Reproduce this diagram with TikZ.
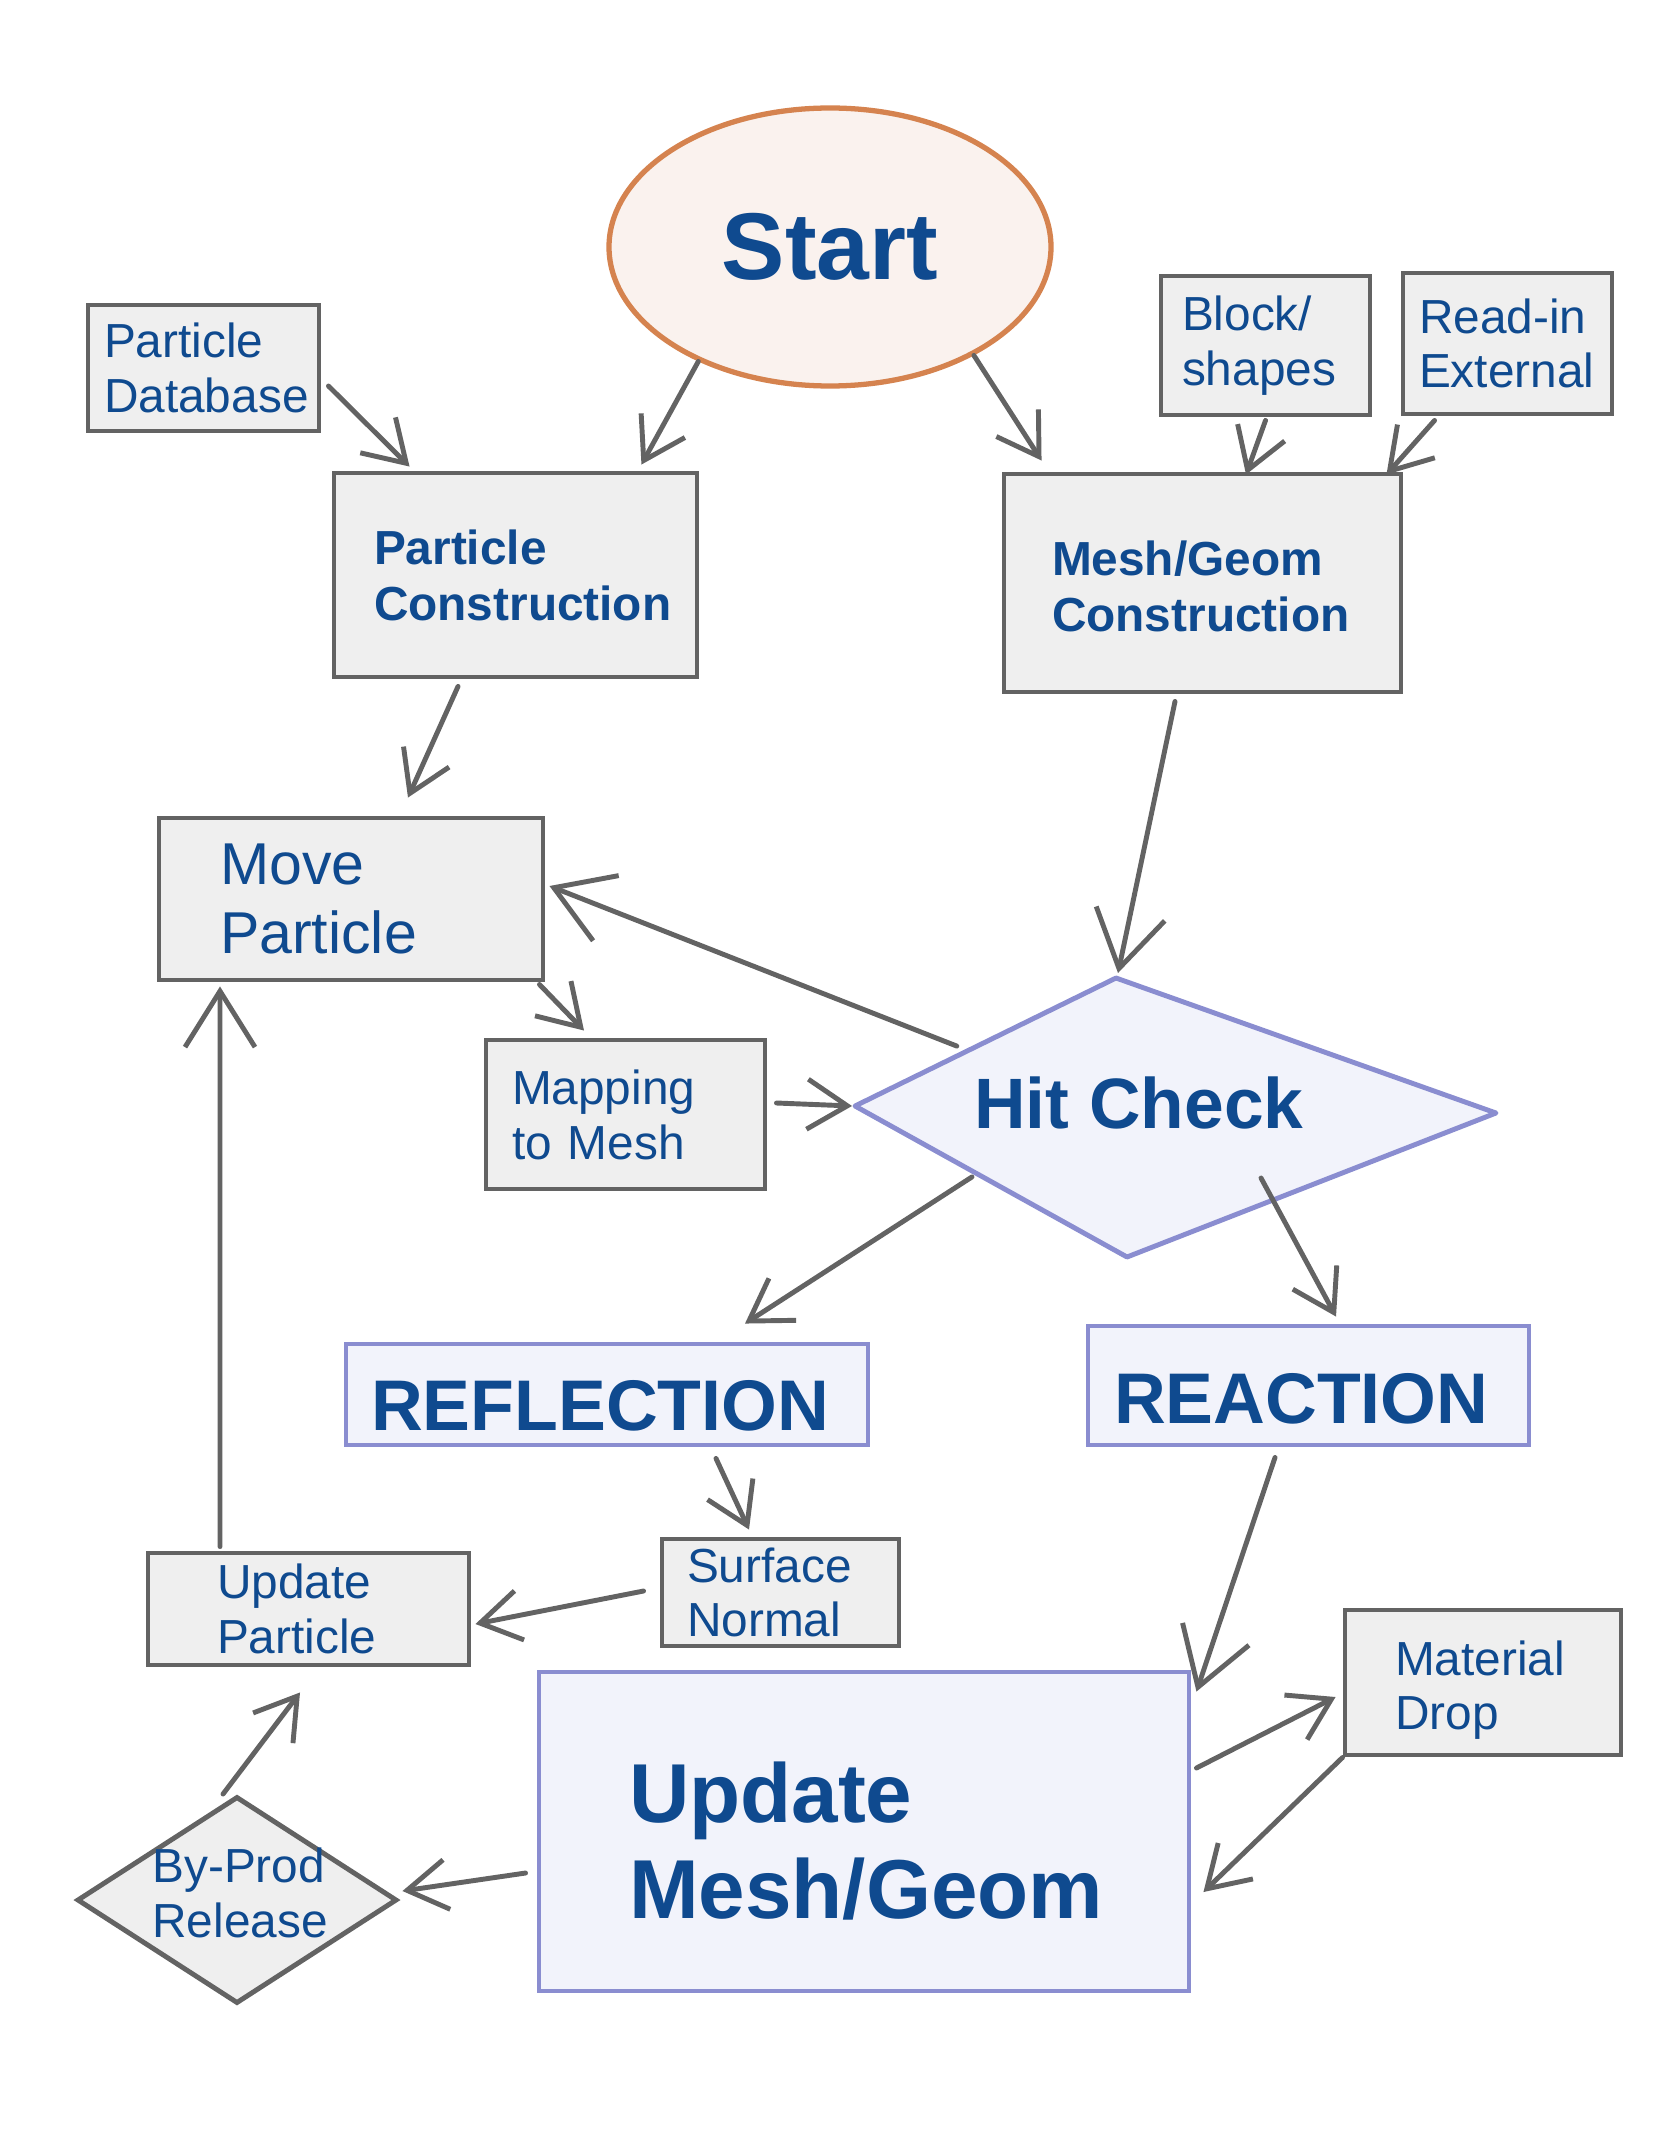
\documentclass[tikz,border=0pt]{standalone}
\usepackage{fontspec}
\setmainfont{Liberation Sans}
\usetikzlibrary{arrows.meta, positioning, shapes.geometric, calc}

\definecolor{txtblue}{HTML}{0F4A8F}
\definecolor{linegray}{HTML}{636363}
\definecolor{boxfill}{HTML}{EFEFEF}
\definecolor{bluefill}{HTML}{F2F3FB}
\definecolor{blueline}{HTML}{8A8DD0}
\definecolor{startfill}{HTML}{FAF2EE}
\definecolor{startline}{HTML}{D5834F}

\begin{document}
\begin{tikzpicture}[
  graybox/.style={draw=linegray, line width=1.4pt, fill=boxfill, text=txtblue, align=left, inner ysep=0pt},
  bluebox/.style={draw=blueline, line width=1.4pt, fill=bluefill, text=txtblue, align=left, inner ysep=0pt},
  smalltxt/.style={font=\fontsize{13.6}{15.6}\selectfont},
  smallbf/.style={font=\fontsize{13.6}{15.9}\selectfont\bfseries},
  bigbf/.style={font=\fontsize{20.4}{23.5}\selectfont\bfseries},
  hitshape/.style={draw=blueline, fill=bluefill, line width=1.4pt, line join=round},
  conn/.style={draw=linegray, line width=1.4pt, line cap=round, -{Straight Barb[length=4mm,width=5mm]}},
  bigconn/.style={conn, -{Straight Barb[length=5.6mm,width=7mm]}}
]

\useasboundingbox (0,0) rectangle (16.68,-21.54);

% start and inputs
\node[ellipse, draw=startline, fill=startfill, line width=1.5pt, minimum width=4.42cm, minimum height=2.78cm, inner sep=0pt, text=txtblue, font=\fontsize{27}{30}\selectfont\bfseries] (start) at (8.30,-2.47) {Start};

\node[graybox, smalltxt, minimum height=1.26cm, text width=1.99cm, inner xsep=0.16cm] (pdb) at (2.035,-3.68) {Particle\\Database};
\node[graybox, smalltxt, minimum height=1.39cm, text width=1.67cm, inner xsep=0.21cm] (blk) at (12.655,-3.455) {Block/\\shapes};
\node[graybox, smalltxt, minimum height=1.41cm, text width=1.77cm, inner xsep=0.16cm] (rdin) at (15.075,-3.435) {Read-in\\External};

\node[graybox, smallbf, minimum height=2.04cm, text width=2.83cm, inner xsep=0.40cm] (pc) at (5.155,-5.75) {Particle\\Construction};
\node[graybox, smallbf, minimum height=2.18cm, text width=3.01cm, inner xsep=0.48cm, text height=0.42cm] (mgc) at (12.025,-5.83) {Mesh/Geom\\Construction};

% tracking loop
\node[graybox, font=\fontsize{16.8}{19.6}\selectfont, minimum height=1.62cm, text width=2.62cm, inner xsep=0.61cm] (mp) at (3.51,-8.99) {Move\\Particle};
\node[graybox, smalltxt, minimum height=1.49cm, text width=2.27cm, inner xsep=0.26cm] (map) at (6.255,-11.145) {Mapping\\to Mesh};

\coordinate (hitT) at (11.16,-9.78);
\coordinate (hitL) at (8.55,-11.06);
\coordinate (hitR) at (14.96,-11.13);
\coordinate (hitB) at (11.27,-12.57);
\draw[hitshape] (hitL) -- (hitT) -- (hitR) -- (hitB) -- cycle;
\node[text=txtblue, font=\fontsize{20.3}{23}\selectfont\bfseries] (hit) at (11.39,-11.03) {Hit Check};

\node[bluebox, bigbf, minimum height=1.01cm, text width=4.72cm, inner xsep=0.25cm, text height=0.72cm, text depth=0pt] (refl) at (6.07,-13.945) {REFLECTION};
\node[bluebox, bigbf, minimum height=1.19cm, text width=3.89cm, inner xsep=0.26cm, text height=0.76cm, text depth=0pt] (reac) at (13.085,-13.855) {REACTION};

\node[graybox, smalltxt, minimum height=1.07cm, text width=1.87cm, inner xsep=0.25cm] (sn) at (7.805,-15.925) {Surface\\Normal};
\node[graybox, smalltxt, minimum height=1.12cm, text width=1.83cm, inner xsep=0.69cm] (up) at (3.085,-16.09) {Update\\Particle};
\node[graybox, smalltxt, minimum height=1.45cm, text width=1.76cm, inner xsep=0.50cm, text height=0.50cm] (md) at (14.83,-16.825) {Material\\Drop};

\node[bluebox, font=\fontsize{23.8}{27.3}\selectfont\bfseries, minimum height=3.19cm, text width=4.70cm, inner xsep=0.90cm, text height=0.80cm] (um) at (8.64,-18.315) {Update\\Mesh/Geom};

\node[diamond, draw=linegray, fill=boxfill, line width=1.4pt, minimum width=3.2cm, minimum height=2.07cm, inner sep=0pt] (bp) at (2.37,-19.0) {};
\node[smalltxt, text=txtblue, align=left] (bptext) at (2.40,-18.93) {By-Prod\\Release};

% connectors
\draw[conn] (start.221) -- ([xshift=-5.8mm,yshift=0.6mm]pc.north east);
\draw[conn] (start.323) -- ([xshift=4mm,yshift=1.1mm]mgc.north west);
\draw[conn] ([xshift=0.7mm,yshift=-1.8mm]pdb.east) -- ([xshift=7.8mm,yshift=0.4mm]pc.north west);
\draw[conn] ([yshift=-0.3mm]blk.south) -- ([xshift=4.35mm,yshift=-0.3mm]mgc.north);
\draw[conn] ([xshift=3.4mm,yshift=-0.4mm]rdin.south west) -- ([xshift=-1.7mm,yshift=-0.3mm]mgc.north east);
\draw[conn] ([xshift=-5.75mm,yshift=-0.7mm]pc.south) -- ([xshift=5.7mm,yshift=1.8mm]mp.north);
\draw[bigconn] ([xshift=-2.75mm,yshift=-0.7mm]mgc.south) -- ([xshift=0.2mm,yshift=0.5mm]hitT);
\draw[bigconn] ($(hitL)!0.39!(hitT)+(0,0.1)$) -- ([xshift=0.4mm,yshift=1.3mm]mp.east);
\draw[conn] ([xshift=-0.6mm,yshift=-0.2mm]mp.south east) -- ([xshift=-4.15mm,yshift=0.7mm]map.north);
\draw[conn] ([xshift=0.9mm,yshift=1.15mm]map.east) -- ([xshift=-0.3mm]hitL);
\draw[conn] ($(hitL)!0.43!(hitB)+(0,-0.06)$) -- ([xshift=13.8mm,yshift=1.8mm]refl.north);
\draw[conn] ([shift={(1.34,0.79)}]hitB) -- ([xshift=2.75mm,yshift=0.7mm]reac.north);
\draw[conn] ([xshift=10.9mm,yshift=-1.1mm]refl.south) -- ([xshift=-3.15mm,yshift=0.7mm]sn.north);
\draw[conn] ([xshift=-1.6mm,yshift=0.15mm]sn.west) -- ([xshift=0.4mm,yshift=-1.5mm]up.east);
\draw[bigconn] ([xshift=-8.85mm,yshift=0.4mm]up.north) -- ([xshift=-13.1mm,yshift=-0.4mm]mp.south);
\draw[bigconn] ([xshift=-3.35mm,yshift=-1mm]reac.south) -- ([xshift=0.5mm,yshift=-2.2mm]um.north east);
\draw[conn] ([xshift=0.5mm,yshift=6.35mm]um.east) -- ([xshift=-0.7mm,yshift=-1.45mm]md.west);
\draw[conn] (md.south west) -- ([xshift=1.2mm,yshift=-6.05mm]um.east);
\draw[conn] ([xshift=-1.1mm,yshift=-4.15mm]um.west) -- ([xshift=0.3mm,yshift=0.9mm]bp.east);
\draw[conn] ([xshift=-1.4mm]bp.north) -- ([xshift=-0.85mm,yshift=-2.5mm]up.south);

\end{tikzpicture}
\end{document}
